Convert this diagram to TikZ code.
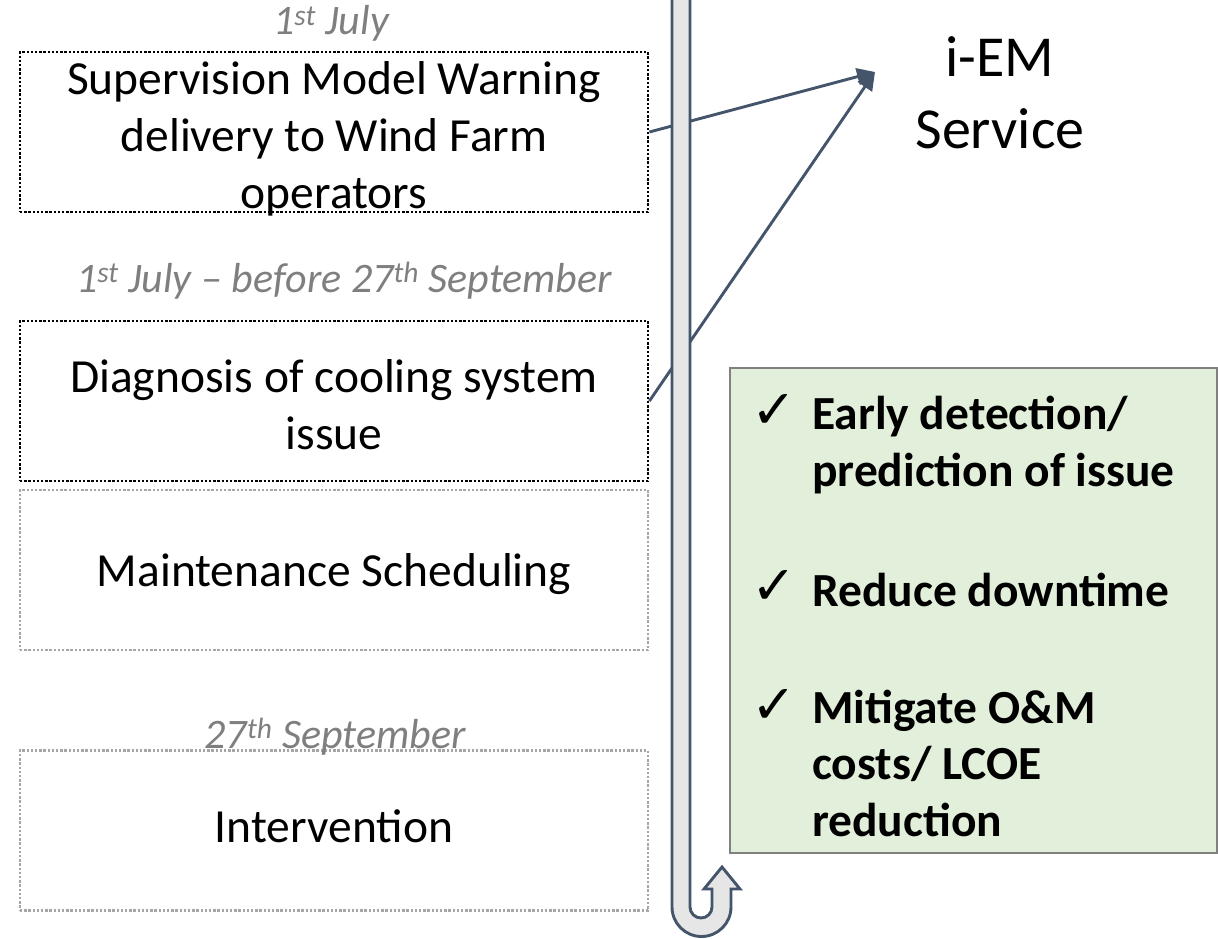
\documentclass[tikz,border=0pt]{standalone}
\usepackage{fontspec}
\setmainfont{Carlito}
\newfontfamily\symbolfont{DejaVu Sans}
\usetikzlibrary{arrows.meta}

\definecolor{slate}{HTML}{44546A}
\definecolor{dategray}{HTML}{7F7F7F}
\definecolor{softdots}{HTML}{A6A6A6}
\definecolor{shaftfill}{HTML}{E7E6E6}
\definecolor{benefitfill}{HTML}{E2EFDA}
\definecolor{benefitedge}{HTML}{808080}

\begin{document}
\begin{tikzpicture}[x=1pt,y=-1pt,
  stagebox/.style={draw=black, line width=2.8pt, dash pattern=on 2.4pt off 1.8pt,
    minimum width=628pt, minimum height=160pt, inner sep=0pt},
  softbox/.style={stagebox, draw=softdots},
  stagetext/.style={anchor=base, align=center, inner sep=0pt,
    font=\fontsize{47.5}{57}\selectfont},
  datetext/.style={anchor=base, inner sep=0pt, text=dategray,
    font=\fontsize{42}{50}\selectfont\itshape},
  link/.style={draw=slate, line width=2.9pt,
    -{Triangle[length=18pt,width=17pt]}},
  shaft/.style={draw=slate, line width=2.9pt, fill=shaftfill, line join=miter},
  benefit/.style={anchor=base west, inner sep=0pt, align=left,
    font=\fontsize{47.5}{56.5}\selectfont\bfseries},
  tick/.style={anchor=base west, inner sep=0pt, font=\fontsize{54}{60}\symbolfont}
]
\useasboundingbox (0,0) rectangle (1218,939);

% timeline stages
\node[stagebox] (warn) at (334,132) {};
\node[stagebox] (diag) at (334,401) {};
\node[softbox]  (sched) at (334,570) {};
\node[softbox]  (interv) at (334,830.5) {};

% dates
\node[datetext] (d1) at (331,35) {1\textsuperscript{st} July};
\node[datetext] (d2) at (344,292) {1\textsuperscript{st} July -- before 27\textsuperscript{th} September};
\node[datetext] (d3) at (335,748) {27\textsuperscript{th} September};

% stage labels (anchored on the baseline of the last line)
\node[stagetext] (warnlbl) at (334,208) {Supervision Model Warning\\delivery to Wind Farm\\operators};
\node[stagetext] (diaglbl) at (334,449) {Diagnosis of cooling system\\issue};
\node[stagetext] (schedlbl) at (334,586) {Maintenance Scheduling};
\node[stagetext] (intervlbl) at (334,842) {Intervention};

% links to the service
\coordinate (svc) at (875,72);
\draw[link] (warn.east) -- (svc);
\draw[link] (diag.east) -- (svc);

% U-turn timeline arrow
\draw[shaft] (672,-10) -- (672,907) arc (180:0:29.5) -- (731,889) -- (740,889)
  -- (722,867) -- (704,889) -- (712,889) -- (712,907) arc (0:180:11)
  -- (690,-10) -- cycle;

% service title
\node[anchor=base, inner sep=0pt, font=\fontsize{58}{70}\selectfont] (iem) at (1000,77) {i-EM};
\node[anchor=base, inner sep=0pt, font=\fontsize{58}{70}\selectfont] (svcname) at (1000,149) {Service};

% benefits panel
\node[draw=benefitedge, fill=benefitfill, line width=2.5pt, inner sep=0pt,
  minimum width=487pt, minimum height=485pt] (panel) at (973.5,610.5) {};
\node[tick] (t1) at (751,428) {✓};
\node[benefit] (b1) at (812,486) {Early detection/\\prediction of issue};
\node[tick] (t2) at (751,604) {✓};
\node[benefit] (b2) at (812,606) {Reduce downtime};
\node[tick] (t3) at (751,723) {✓};
\node[benefit] (b3) at (812,836) {Mitigate O\&M\\costs/ LCOE\\reduction};
\end{tikzpicture}
\end{document}
